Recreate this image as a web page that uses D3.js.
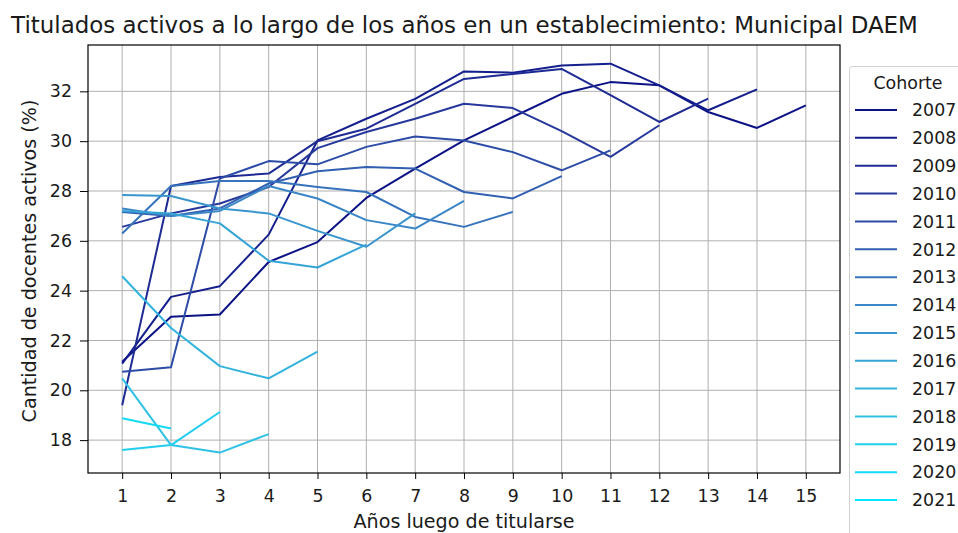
<!DOCTYPE html>
<html><head><meta charset="utf-8">
<script src="https://cdn.jsdelivr.net/npm/d3@7"></script>
<style>body{margin:0;background:#fff;}svg{display:block;font-family:"DejaVu Sans",sans-serif;}</style>
</head><body><svg id="c" width="958" height="533"></svg>
<script>
const cohorts = ["2007","2008","2009","2010","2011","2012","2013","2014","2015","2016","2017","2018","2019","2020","2021"];
const years = [1,2,3,4,5,6,7,8,9,10,11,12,13,14,15];
const xTicks = [1,2,3,4,5,6,7,8,9,10,11,12,13,14,15];
const yTicks = [18,20,22,24,26,28,30,32];
const s2007 = [21.15,22.95,23.04,25.15,25.95,27.72,28.9,30.03,30.97,31.9,32.37,32.24,31.17,30.53,31.44];
const s2008 = [21.07,23.75,24.18,26.25,30.03,30.9,31.7,32.8,32.75,33.04,33.11,32.24,31.24,32.08];
const s2009 = [19.4,28.2,28.56,28.7,30.0,30.5,31.5,32.5,32.7,32.9,31.85,30.77,31.71];
const s2010 = [26.56,27.1,27.5,28.16,29.72,30.37,30.9,31.5,31.33,30.4,29.37,30.64];
const s2011 = [20.74,20.92,28.5,29.2,29.07,29.77,30.19,30.03,29.56,28.83,29.63];
const s2012 = [27.16,27.0,27.3,28.3,28.79,28.96,28.9,27.96,27.7,28.6];
const s2013 = [26.29,28.2,28.4,28.4,28.16,27.96,26.96,26.56,27.16];
const s2014 = [27.3,27.0,27.2,28.2,27.7,26.83,26.49,27.6];
const s2015 = [27.84,27.8,27.3,27.1,26.4,25.76,27.1];
const s2016 = [27.2,27.1,26.7,25.2,24.93,25.85];
const s2017 = [24.58,22.5,20.97,20.48,21.55];
const s2018 = [20.48,17.8,17.5,18.24];
const s2019 = [17.6,17.8,19.13];
const s2020 = [18.88,18.47];
const s2021 = [20.5];
const seriesList = [s2007,s2008,s2009,s2010,s2011,s2012,s2013,s2014,s2015,s2016,s2017,s2018,s2019,s2020,s2021];

const svg = d3.select("#c");
const L=88, R=840, T=45, B=473;
const FS = 17.4;
const x = d3.scaleLinear().domain([0.3,15.7]).range([L,R]);
const y = d3.scaleLinear().domain([16.68,33.86]).range([B,T]);
const color = d3.scaleLinear()
  .domain([0,3,7,11,14])
  .range(["#0b1285","#27389c","#3b86c6","#2fc2e6","#05e6fd"])
  .interpolate(d3.interpolateRgb);

function fit(sel, w){
  const n = sel.node(); const cur = n.getComputedTextLength();
  const fs = parseFloat(sel.style("font-size"));
  sel.style("font-size", (fs*w/cur).toFixed(2)+"px");
}

// grid
const g = svg.append("g");
g.selectAll(".gx").data(xTicks).join("line")
  .attr("x1",d=>x(d)).attr("x2",d=>x(d)).attr("y1",T).attr("y2",B)
  .attr("stroke","#b0b0b0").attr("stroke-width",1);
g.selectAll(".gy").data(yTicks).join("line")
  .attr("y1",d=>y(d)).attr("y2",d=>y(d)).attr("x1",L).attr("x2",R)
  .attr("stroke","#b0b0b0").attr("stroke-width",1);

// lines
const line = d3.line().x((d,i)=>x(years[i])).y(d=>y(d));
seriesList.forEach((s,i)=>{
  svg.append("path").datum(s).attr("d",line).attr("fill","none")
    .attr("stroke",color(i)).attr("stroke-width",2).attr("stroke-linejoin","round");
});

// axes
const xAxis = d3.axisBottom(x).tickValues(xTicks).tickSize(6).tickPadding(4).tickFormat(d3.format("d"));
const yAxis = d3.axisLeft(y).tickValues(yTicks).tickSize(8).tickPadding(8).tickFormat(d3.format("d"));
const ax = svg.append("g").attr("transform",`translate(0,${B})`).call(xAxis);
const ay = svg.append("g").attr("transform",`translate(${L},0)`).call(yAxis);
[ax,ay].forEach(a=>{
  a.select(".domain").remove();
  a.selectAll(".tick line").attr("stroke","#000").attr("stroke-width",1);
  a.selectAll(".tick text").attr("fill","#1a1a1a").style("font-size",FS+"px").style("font-family","DejaVu Sans");
});
ax.selectAll(".tick text").attr("dy",null).attr("y",null).attr("transform","translate(0,29)");
svg.append("rect").attr("x",L).attr("y",T).attr("width",R-L).attr("height",B-T)
  .attr("fill","none").attr("stroke","#000").attr("stroke-width",1.2);

// titles
const t = svg.append("text").attr("x",(L+R)/2+0.5).attr("y",33).attr("text-anchor","middle")
  .style("font-size","21px").attr("fill","#1a1a1a").text("Titulados activos a lo largo de los años en un establecimiento: Municipal DAEM");
fit(t, 907);
const xl = svg.append("text").attr("x",(L+R)/2).attr("y",528).attr("text-anchor","middle")
  .style("font-size",FS+"px").attr("fill","#1a1a1a").text("Años luego de titularse");
fit(xl, 221);
const yl = svg.append("text").attr("transform",`translate(36,${(T+B)/2+2}) rotate(-90)`).attr("text-anchor","middle")
  .style("font-size",FS+"px").attr("fill","#1a1a1a").text("Cantidad de docentes activos (%)");
fit(yl, 323);

// legend
const lg = svg.append("g");
lg.append("rect").attr("x",849.5).attr("y",66.5).attr("width",130).attr("height",500)
  .attr("rx",3).attr("fill","#fff").attr("stroke","#d0d0d0").attr("stroke-width",1);
lg.append("text").attr("x",908).attr("y",89).attr("text-anchor","middle")
  .style("font-size",FS+"px").attr("fill","#1a1a1a").text("Cohorte");
cohorts.forEach((c,i)=>{
  const yy = 110 + i*27.86;
  lg.append("line").attr("x1",855).attr("x2",897).attr("y1",yy).attr("y2",yy)
    .attr("stroke",color(i)).attr("stroke-width",2);
  lg.append("text").attr("x",912).attr("y",yy+6.2).style("font-size",FS+"px").attr("fill","#1a1a1a").text(c);
});
</script></body></html>
